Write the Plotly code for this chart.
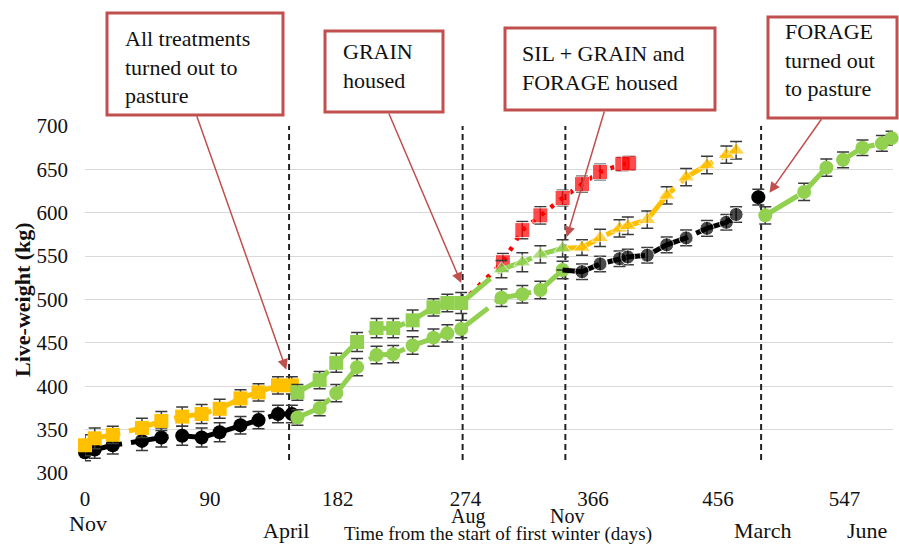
import plotly.graph_objects as go

# ---------------- data ----------------
tick_days = [0, 90, 182, 274, 366, 456, 547]
month_labels = ["Nov", "April", "Aug", "Nov", "March", "June"]
month_days = [2, 145, 276, 347, 488, 563]
month_ypx = [523, 530, 516, 516, 530, 530]
month_size = [22, 22, 20, 20, 22, 22]
event_days = [147, 272, 346, 487]

# first winter (two groups)
fw_days = [0, 7, 20, 41, 55, 70, 84, 97, 112, 125, 139, 149]
fw_high = [332, 340, 344, 352, 360, 365, 368, 374, 386, 393, 401, 401]
fw_high_se = [12, 12, 10, 11, 11, 11, 11, 11, 10, 10, 10, 10]
fw_low = [324, 327, 332, 337, 341, 343, 341, 347, 355, 361, 368, 368]
fw_low_se = [10, 10, 10, 11, 11, 11, 11, 11, 10, 10, 10, 10]

# first grazing season
past_days = [153, 169, 181, 196, 210, 222, 236, 251, 261, 271]
past_high = [393, 407, 427, 451, 467, 467, 476, 491, 496, 496]
past_high_se = [9, 10, 11, 11, 11, 11, 12, 10, 10, 12]
past_low = [364, 375, 392, 422, 436, 437, 447, 456, 461, 466]
past_low_se = [9, 9, 10, 10, 10, 10, 10, 10, 10, 10]

# autumn grazing after GRAIN housed
aut_days = [300, 315, 328, 344]
aut_high = [535, 543, 552, 559]
aut_high_se = [10, 11, 10, 10]
aut_low = [502, 506, 511, 534]
aut_low_se = [10, 10, 10, 10]

# GRAIN finishing
grain_days = [301, 315, 328, 344, 358, 371, 387, 392]
grain = [543, 580, 597, 617, 633, 647, 656, 657]
grain_se = [10, 10, 10, 9, 9, 9, 8, 8]

# second winter
win2_days = [358, 371, 385, 391, 405, 419, 433, 448, 462, 469]
silgrain = [560, 571, 582, 585, 592, 620, 641, 655, 667, 672]
silgrain_se = [9, 10, 10, 10, 10, 10, 10, 10, 10, 10]
forage = [532, 541, 547, 549, 551, 563, 571, 582, 589, 598]
forage_se = [9, 9, 9, 9, 9, 9, 9, 9, 9, 9]

forage_end_day = [485]
forage_end = [618]
forage_end_se = [9]

# second grazing season (FORAGE)
past2_days = [490, 518, 534, 546, 560, 574, 581]
past2 = [597, 624, 652, 661, 675, 680, 686]
past2_se = [10, 10, 10, 9, 9, 9, 8]

annot_texts = [
    "All treatments<br>turned out to<br>pasture",
    "GRAIN<br>housed",
    "SIL + GRAIN and<br>FORAGE housed",
    "FORAGE<br>turned out<br>to pasture",
]

# ---------------- style ----------------
YEL = "#FFC000"
GRN = "#92D050"
RED = "#FF0000"
BLK = "#000000"
BOX = "#C0504D"
FONT = "Liberation Serif"
LW = 5
DASH = "38px,9px"
EB = dict(type="data", symmetric=True, color="#3a3a3a", thickness=1.5, width=6)

# plot area in pixels
L, R, T, B = 85, 893, 126, 473
W, H = 899, 547


def px_x(px):
    return (px - L) / (R - L)


def px_y(py):
    return (B - py) / (B - T)


fig = go.Figure()


def add(x, y, se, color, symbol, size, dash=DASH, width=LW, sizes=None):
    fig.add_trace(go.Scatter(
        x=x, y=y, mode="lines+markers",
        line=dict(color=color, width=width, dash=dash),
        marker=dict(color=color, symbol=symbol, size=sizes if sizes else size),
        error_y=dict(array=se, **EB),
        cliponaxis=False, showlegend=False, hoverinfo="x+y",
    ))


# first winter
add(fw_days, fw_low, fw_low_se, BLK, "circle", 14)
add(fw_days, fw_high, fw_high_se, YEL, "square", 14)

# pasture + autumn, low group (green circles)
add(past_days + aut_days, past_low + aut_low, past_low_se + aut_low_se, GRN, "circle", 14)

# forage second winter (black)
add([aut_days[-1]] + win2_days, [aut_low[-1]] + forage, [0] + forage_se, BLK, "circle", 14,
    sizes=[0] + [14] * len(win2_days))
add(forage_end_day, forage_end, forage_end_se, BLK, "circle", 14)

# second pasture (green circles)
add(past2_days, past2, past2_se, GRN, "circle", 14)

# sil + grain second winter (yellow triangles)
add([aut_days[-1]] + win2_days, [aut_high[-1]] + silgrain, [0] + silgrain_se, YEL, "triangle-up", 15,
    sizes=[0] + [15] * len(win2_days))

# grain (red squares, dotted)
add([past_days[-1]] + grain_days, [past_high[-1]] + grain, [0] + grain_se, RED, "square", 15,
    dash="4px,8px", width=4.5, sizes=[0] + [15] * len(grain_days))

# high group pasture (green squares) and autumn (green triangles)
add([past_days[-1]] + aut_days, [past_high[-1]] + aut_high, [0] + aut_high_se, GRN, "triangle-up", 15,
    sizes=[0] + [15] * len(aut_days))
add(past_days, past_high, past_high_se, GRN, "square", 14)

# event lines
for d in event_days:
    fig.add_shape(type="line", xref="x", yref="y", x0=d, x1=d, y0=315, y1=700,
                  line=dict(color="#222222", width=2, dash="6px,4px"), layer="between")

# annotation boxes (pixel geometry)
boxes = [(107, 13, 283, 115), (325, 31, 443, 112), (505, 28, 715, 110), (768, 17, 897, 118)]
text_pos = [(124, 25), (342, 38), (521, 40), (784, 18)]
for (x0, y0, x1, y1), (tx, ty), txt in zip(boxes, text_pos, annot_texts):
    fig.add_shape(type="rect", xref="paper", yref="paper",
                  x0=px_x(x0), x1=px_x(x1), y0=px_y(y1), y1=px_y(y0),
                  line=dict(color=BOX, width=3), fillcolor="white", layer="above")
    fig.add_annotation(xref="paper", yref="paper", x=px_x(tx), y=px_y(ty),
                       xanchor="left", yanchor="top", align="left", text=txt,
                       showarrow=False, font=dict(family=FONT, size=22, color="#111111"),
                       borderpad=0)

# arrows: tip in data coords, tail offsets in px
arrow_tips = [(145, 419), (271, 519), (347, 572), (493, 623)]
arrow_tails = [(-90, -255), (-73, -171), (38, -127), (53, -75)]
for (ax_, ay_), (dx, dy) in zip(arrow_tips, arrow_tails):
    fig.add_annotation(x=ax_, y=ay_, xref="x", yref="y", ax=dx, ay=dy, text="",
                       showarrow=True, arrowhead=2, arrowsize=1.4, arrowwidth=1.5,
                       arrowcolor=BOX, standoff=0)

# month labels
for lab, d, py, fs in zip(month_labels, month_days, month_ypx, month_size):
    fig.add_annotation(x=d, xref="x", y=px_y(py), yref="paper", text=lab, showarrow=False,
                       xanchor="center", yanchor="middle",
                       font=dict(family=FONT, size=fs, color="#111111"))

# axis titles
fig.add_annotation(x=px_x(498), y=px_y(534), xref="paper", yref="paper",
                   text="Time from the start of first winter (days)", showarrow=False,
                   xanchor="center", yanchor="middle",
                   font=dict(family=FONT, size=19, color="#111111"))
fig.add_annotation(x=px_x(22), y=px_y(300), xref="paper", yref="paper",
                   text="<b>Live-weight (kg)</b>", showarrow=False, textangle=-90,
                   xanchor="center", yanchor="middle",
                   font=dict(family=FONT, size=22, color="#111111"))

fig.update_layout(
    width=W, height=H,
    margin=dict(l=L, r=W - R, t=T, b=H - B),
    paper_bgcolor="white", plot_bgcolor="white",
    font=dict(family=FONT, size=21, color="#111111"),
    xaxis=dict(range=[0, 582], tickvals=tick_days, ticktext=[str(t) for t in tick_days],
               showgrid=False, zeroline=False, showline=False, ticks="",
               ticklabelstandoff=11, tickfont=dict(size=21)),
    yaxis=dict(range=[300, 700], dtick=50, tick0=300, showgrid=True, gridcolor="#D9D9D9",
               gridwidth=1.2, zeroline=False, showline=False, ticks="",
               ticklabelstandoff=16, tickfont=dict(size=21)),
)

fig.write_html("out.html", config={"displayModeBar": False},
               post_script="document.body.style.margin='0';document.body.style.overflow='hidden';")
